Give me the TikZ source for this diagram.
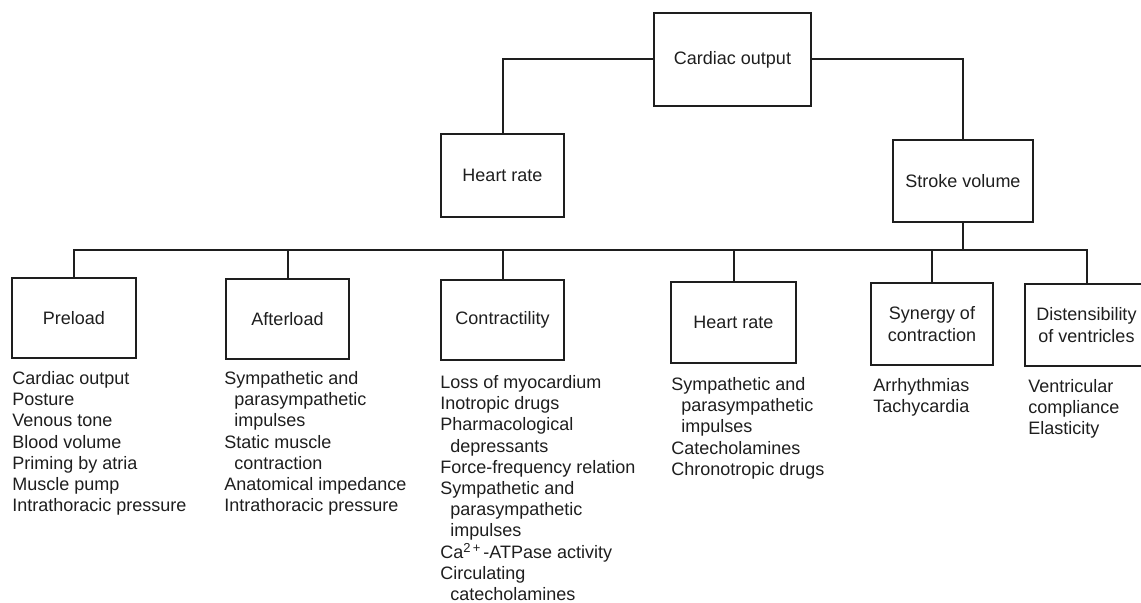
\documentclass[tikz,border=0pt]{standalone}
\usepackage{fontspec}
\setmainfont{Liberation Sans}
\usetikzlibrary{positioning,calc}
\definecolor{ink}{HTML}{1E1E1E}
\newcommand{\ind}{\hspace*{5pt}}
\newcommand{\ionsup}[1]{\raisebox{3pt}{\fontsize{6.5}{7}\selectfont #1}}
\tikzset{
  box/.style={draw=ink, line width=1pt, align=center, inner sep=2pt,
    font=\fontsize{9}{10.6}\selectfont, text=ink},
  factors/.style={anchor=north west, align=left, inner sep=0pt,
    font=\fontsize{9}{10.6}\selectfont, text=ink},
  link/.style={draw=ink, line width=1pt}
}
\begin{document}
\begin{tikzpicture}[x=0.5pt,y=-0.5pt]
  \useasboundingbox (0,0) rectangle (1141,603);

  % top levels
  \node[box, minimum width=78.5pt, minimum height=46.5pt] (co) at (732.5,59.5) {Cardiac output};
  \node[box, minimum width=61.5pt, minimum height=41.5pt] (hr) at (502.5,175.5) {Heart rate};
  \node[box, minimum width=70pt, minimum height=41pt] (sv) at (963,181) {Stroke volume};

  % determinants
  \node[box, minimum width=62pt, minimum height=40pt] (pre) at (74,318) {Preload};
  \node[box, minimum width=61.5pt, minimum height=40pt] (aft) at (287.5,319) {Afterload};
  \node[box, minimum width=61.5pt, minimum height=40pt] (con) at (502.5,320) {Contractility};
  \node[box, minimum width=62.5pt, minimum height=40.5pt] (hrb) at (733.5,322.5) {Heart rate};
  \node[box, minimum width=61pt, minimum height=41pt] (syn) at (932,324) {Synergy of\\contraction};
  \node[box, minimum width=61.5pt, minimum height=41pt] (dis) at (1086.5,325) {Distensibility\\of ventricles};

  % factor lists
  \node[factors] (prelist) at (12,371) {Cardiac output\\Posture\\Venous tone\\Blood volume\\Priming by atria\\Muscle pump\\Intrathoracic pressure};
  \node[factors] (aftlist) at (224,371) {Sympathetic and\\\ind parasympathetic\\\ind impulses\\Static muscle\\\ind contraction\\Anatomical impedance\\Intrathoracic pressure};
  \node[factors] (conlist) at (440,375) {Loss of myocardium\\Inotropic drugs\\Pharmacological\\\ind depressants\\Force-frequency relation\\Sympathetic and\\\ind parasympathetic\\\ind impulses\\Ca\ionsup{2\,+}\,-ATPase activity\\Circulating\\\ind catecholamines};
  \node[factors] (hrblist) at (671,377) {Sympathetic and\\\ind parasympathetic\\\ind impulses\\Catecholamines\\Chronotropic drugs};
  \node[factors] (synlist) at (873,378) {Arrhythmias\\Tachycardia};
  \node[factors] (dislist) at (1028,379) {Ventricular\\compliance\\Elasticity};

  % connectors
  \coordinate (bus) at (0,250);
  \draw[link] (co.west) -| (hr.north);
  \draw[link] (co.east) -| (sv.north);
  \draw[link] (sv.south) -- (sv.south |- bus);
  \draw[link] (pre.north) |- (dis.north |- bus) -- (dis.north);
  \foreach \n in {aft,con,hrb,syn}
    \draw[link] (\n.north) -- (\n.north |- bus);
\end{tikzpicture}
\end{document}
